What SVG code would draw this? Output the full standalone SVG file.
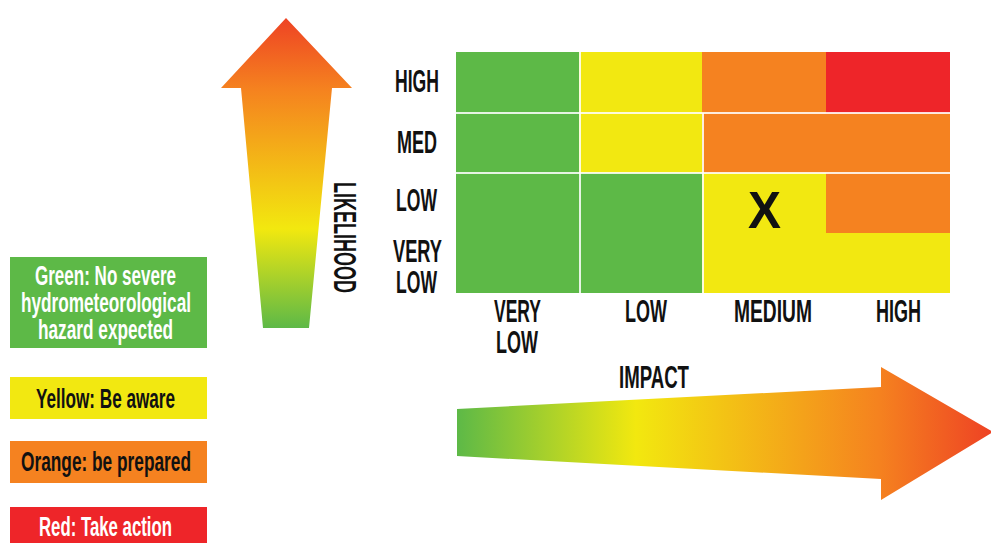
<svg xmlns="http://www.w3.org/2000/svg" width="991" height="543" viewBox="0 0 991 543">
<defs>
<linearGradient id="gv" gradientUnits="userSpaceOnUse" x1="0" y1="18" x2="0" y2="328">
<stop offset="0" stop-color="#EE4324"/>
<stop offset="0.23" stop-color="#F5821F"/>
<stop offset="0.68" stop-color="#F2E80F"/>
<stop offset="1" stop-color="#5DB947"/>
</linearGradient>
<linearGradient id="gh" gradientUnits="userSpaceOnUse" x1="457" y1="0" x2="991" y2="0">
<stop offset="0" stop-color="#5DB947"/>
<stop offset="0.335" stop-color="#F2E80F"/>
<stop offset="0.79" stop-color="#F5821F"/>
<stop offset="1" stop-color="#EE4324"/>
</linearGradient>
<style>
text{font-family:"Liberation Sans","DejaVu Sans",sans-serif;font-weight:bold;}
.lbl{font-size:32px;fill:#111;}
.leg{font-size:27px;}
.g{fill:#5DB947}.y{fill:#F2E811}.o{fill:#F58220}.r{fill:#EE2529}
.sep{stroke:#fff;stroke-width:2;opacity:0.85}
</style>
</defs>
<rect width="991" height="543" fill="#fff"/>

<g id="likelihood-arrow">
<polygon points="286,18 352,88 332,88 309,328 263,328 241,88 221,88" fill="url(#gv)"/>
<text class="lbl" transform="translate(334,182) rotate(90)" textLength="111" lengthAdjust="spacingAndGlyphs">LIKELIHOOD</text>
</g>

<g id="impact-arrow">
<polygon points="457,409 881,387 881,367 993,432 881,500 881,479 457,456" fill="url(#gh)"/>
<text class="lbl" x="619" y="388" textLength="70" lengthAdjust="spacingAndGlyphs">IMPACT</text>
</g>

<g id="matrix">
<rect class="g" x="456" y="52" width="124" height="241"/>
<rect class="y" x="579" y="52" width="124" height="121"/>
<rect class="g" x="579" y="173" width="124" height="120"/>
<rect class="o" x="702" y="52" width="248" height="121"/>
<rect class="r" x="826" y="52" width="124" height="61"/>
<rect class="y" x="702" y="173" width="248" height="120"/>
<rect class="o" x="826" y="173" width="124" height="60"/>
<line class="sep" x1="456" y1="113" x2="950" y2="113"/>
<line class="sep" x1="456" y1="173" x2="950" y2="173"/>
<line class="sep" x1="580" y1="52" x2="580" y2="293"/>
<line class="sep" x1="703" y1="113" x2="703" y2="293"/>
<text x="748" y="228" font-size="52" fill="#111" textLength="33" lengthAdjust="spacingAndGlyphs">X</text>
</g>

<g id="row-labels">
<text class="lbl" x="395" y="92" textLength="44" lengthAdjust="spacingAndGlyphs">HIGH</text>
<text class="lbl" x="397" y="153" textLength="40" lengthAdjust="spacingAndGlyphs">MED</text>
<text class="lbl" x="396" y="211" textLength="41" lengthAdjust="spacingAndGlyphs">LOW</text>
<text class="lbl" x="393" y="262" textLength="49" lengthAdjust="spacingAndGlyphs">VERY</text>
<text class="lbl" x="396" y="293" textLength="41" lengthAdjust="spacingAndGlyphs">LOW</text>
</g>

<g id="col-labels">
<text class="lbl" x="494" y="322" textLength="47" lengthAdjust="spacingAndGlyphs">VERY</text>
<text class="lbl" x="496" y="353" textLength="42" lengthAdjust="spacingAndGlyphs">LOW</text>
<text class="lbl" x="625" y="322" textLength="42" lengthAdjust="spacingAndGlyphs">LOW</text>
<text class="lbl" x="734" y="322" textLength="78" lengthAdjust="spacingAndGlyphs">MEDIUM</text>
<text class="lbl" x="876" y="322" textLength="45" lengthAdjust="spacingAndGlyphs">HIGH</text>
</g>

<g id="legend-green">
<rect class="g" x="10" y="257" width="197" height="91"/>
<text class="leg" x="35" y="285" fill="#fff" textLength="141" lengthAdjust="spacingAndGlyphs">Green: No severe</text>
<text class="leg" x="21" y="312" fill="#fff" textLength="170" lengthAdjust="spacingAndGlyphs">hydrometeorological</text>
<text class="leg" x="38" y="339" fill="#fff" textLength="135" lengthAdjust="spacingAndGlyphs">hazard expected</text>
</g>

<g id="legend-yellow">
<rect class="y" x="10" y="377" width="197" height="42"/>
<text class="leg" x="36" y="408" fill="#111" textLength="139" lengthAdjust="spacingAndGlyphs">Yellow: Be aware</text>
</g>

<g id="legend-orange">
<rect class="o" x="10" y="441" width="197" height="42"/>
<text class="leg" x="21" y="471" fill="#111" textLength="170" lengthAdjust="spacingAndGlyphs">Orange: be prepared</text>
</g>

<g id="legend-red">
<rect class="r" x="10" y="507" width="197" height="40"/>
<text class="leg" x="39" y="536" fill="#fff" textLength="133" lengthAdjust="spacingAndGlyphs">Red: Take action</text>
</g>
</svg>
